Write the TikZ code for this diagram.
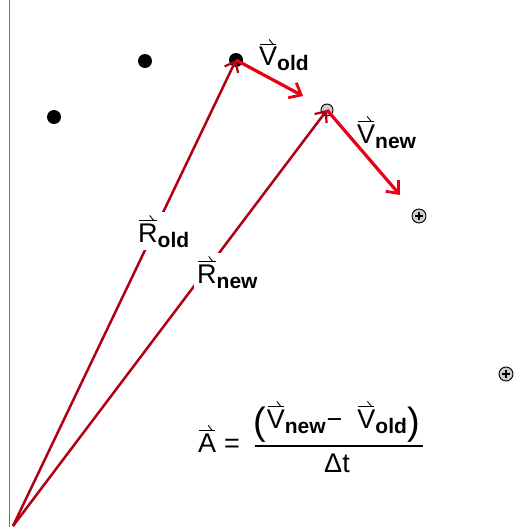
\documentclass[tikz,border=0pt]{standalone}
\usepackage{fontspec}
\setmainfont{Liberation Sans}
\usetikzlibrary{arrows.meta}
\definecolor{rdark}{RGB}{175,0,20}
\definecolor{rbright}{RGB}{232,0,20}
\definecolor{cgray}{RGB}{205,205,205}
\newcommand\hvec[1]{\tikz[x=1pt,y=1pt,baseline=(hv.base)]{\node[inner sep=0pt,outer sep=0pt](hv){#1};
 \draw[line width=0.9pt] ([yshift=3pt,xshift=1pt]hv.north west) -- ([yshift=3pt,xshift=-1pt]hv.north east);
 \draw[line width=0.9pt] ([yshift=3pt,xshift=-4pt]hv.north east) -- ++(-4pt,5pt);}}
\newcommand\lbsub[1]{\raisebox{-5pt}{\fontsize{21}{22}\selectfont\bfseries #1}}
\newcommand\bigparen[1]{\raisebox{-6pt}{\fontsize{38}{38}\selectfont #1}}
\tikzset{
  big/.style={font=\fontsize{27}{30}\selectfont, inner sep=1pt},
  rline/.style={draw=rdark, line width=2.5pt, -{Straight Barb[length=9pt,width=15pt,line width=2.2pt]}},
  vline/.style={draw=rbright, line width=3.2pt, -{Straight Barb[length=10pt,width=17pt,line width=2.8pt]}},
  dot/.style={circle, fill=black, minimum size=14pt, inner sep=0pt},
  hollow/.style={circle, draw=black, fill=cgray, line width=0.9pt, minimum size=12pt, inner sep=0pt},
}
\begin{document}
\begin{tikzpicture}[x=1pt,y=-1pt]
\useasboundingbox[fill=white] (0,0) rectangle (530,527);
\coordinate (top) at (9.5,0);
\coordinate (bot) at (9.5,527);
\draw[draw={rgb,255:red,120;green,120;blue,120}, line width=1.4pt] (top) -- (bot);
\coordinate (O) at (13,526);
% dots
\node[dot] (d1) at (54,117) {};
\node[dot] (d2) at (145,61) {};
\node[dot] (d3) at (236,60) {};
\node[hollow] (c1) at (327,110) {};
\node[hollow, minimum size=14pt] (p1) at (419,216) {};
\node[hollow, minimum size=14pt] (p2) at (506,374) {};
\foreach \p in {p1,p2}{
  \draw[line width=1.3pt] ([xshift=-4pt]\p.center) -- ([xshift=4pt]\p.center);
  \draw[line width=1.3pt] ([yshift=-4pt]\p.center) -- ([yshift=4pt]\p.center);
}
% position vectors
\draw[rline] (O) -- (d3.center);
\draw[rline] (O) -- (c1.center);
% labels on R lines
\node[big, anchor=base west, fill=white, inner sep=3pt] (rold) at (135,242) {\hvec{R}\lbsub{old}};
\node[big, anchor=base west, fill=white, inner sep=3pt] (rnew) at (194,283) {\hvec{R}\lbsub{new}};
% velocity vectors
\coordinate (v1) at (303,96);
\coordinate (v2) at (400,195);
\draw[vline] (d3.center) -- (v1);
\draw[vline] (c1.center) -- (v2);
\node[big, anchor=base west] (vold) at (258,66) {\hvec{V}\lbsub{old}};
\node[big, anchor=base west] (vnew) at (356,143) {\hvec{V}\lbsub{new}};
% formula
\node[big, anchor=base west] (A) at (197,452) {\hvec{A}\hspace{8pt}=};
\node[big, anchor=base west, inner sep=0pt] (num) at (253,428) {\bigparen{(}\hspace{1pt}\hvec{V}\lbsub{new}\hspace{1pt}−\hspace{15pt}\hvec{V}\lbsub{old}\hspace{1pt}\bigparen{)}};
\coordinate (b1) at (255,446);
\coordinate (b2) at (423,446);
\draw[line width=1.4pt] (b1) -- (b2);
\node[big, anchor=base] (den) at (337,472) {Δt};
\end{tikzpicture}
\end{document}
